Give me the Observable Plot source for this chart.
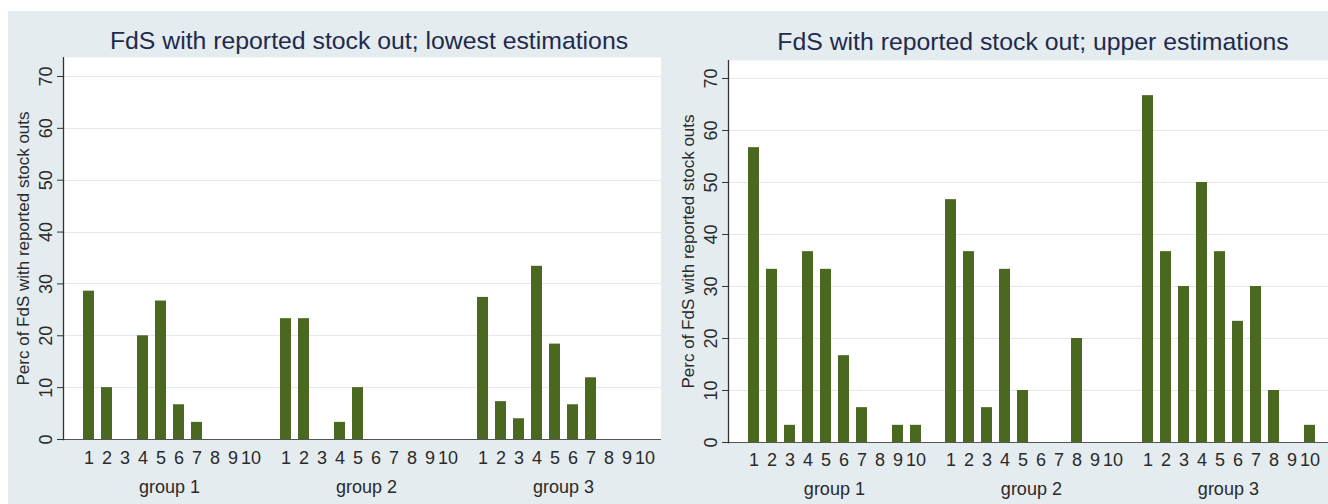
<!DOCTYPE html>
<html>
<head>
<meta charset="utf-8">
<script src="https://cdn.jsdelivr.net/npm/d3@7"></script>
<script src="https://cdn.jsdelivr.net/npm/@observablehq/plot@0.6"></script>
<style>
  body { margin: 0; background: #ffffff; }
  #wrap { position: relative; width: 1328px; height: 504px; overflow: hidden; }
  .panel { position: absolute; top: 11px; height: 493px; background: #e4ecef; }
  .title { position: absolute; left: 0; text-align: center; font-family: "Liberation Sans", Arial, sans-serif;
           font-size: 24.8px; line-height: 24px; color: #1f2a4c; white-space: nowrap; }
  .chart { position: absolute; left: 0; }
</style>
</head>
<body>
<div id="wrap">
  <div class="panel" id="p1" style="left:8px;width:653px;">
    <div class="title" style="top:18px;width:722px;">FdS with reported stock out; lowest estimations</div>
    <div class="chart" id="c1" style="top:46px;"></div>
  </div>
  <div class="panel" id="p2" style="left:661px;width:667px;">
    <div class="title" style="top:19px;width:744px;">FdS with reported stock out; upper estimations</div>
    <div class="chart" id="c2" style="top:49px;"></div>
  </div>
</div>
<script>
// ---- data ----
const groups = ["group 1", "group 2", "group 3"];
const items = [1, 2, 3, 4, 5, 6, 7, 8, 9, 10];
const yTicks = [0, 10, 20, 30, 40, 50, 60, 70];
const yTitle = "Perc of FdS with reported stock outs";

const lowestGroup1 = [28.6, 10.0, 0, 20.0, 26.7, 6.7, 3.3, 0, 0, 0];
const lowestGroup2 = [23.3, 23.3, 0, 3.3, 10.0, 0, 0, 0, 0, 0];
const lowestGroup3 = [27.4, 7.3, 4.0, 33.4, 18.4, 6.7, 11.9, 0, 0, 0];

const upperGroup1 = [56.7, 33.3, 3.3, 36.7, 33.3, 16.7, 6.7, 0, 3.3, 3.3];
const upperGroup2 = [46.7, 36.7, 6.7, 33.3, 10.0, 0, 0, 20.0, 0, 0];
const upperGroup3 = [66.7, 36.7, 30.0, 50.0, 36.7, 23.3, 30.0, 10.0, 0, 3.3];

// ---- helpers ----
function toRows(seriesByGroup) {
  const rows = [];
  seriesByGroup.forEach((vals, gi) => {
    vals.forEach((v, i) => rows.push({group: groups[gi], item: items[i], value: v}));
  });
  return rows;
}

const FONT = "'Liberation Sans', Arial, sans-serif";
const GREEN = "#4a6820";
const GRID = "#e1e9ee";
const TEXT = "#2a2a2a";

function makeChart(rows, cfg) {
  const ext = -14; // let full-width elements run on into the next facet / to the panel edge
  return Plot.plot({
    width: cfg.width,
    height: cfg.height,
    marginLeft: cfg.marginLeft,
    marginRight: 0,
    marginTop: 0,
    marginBottom: cfg.marginBottom,
    style: {background: "transparent", fontFamily: FONT, fontSize: "18px", color: TEXT},
    facet: {marginTop: 0, marginRight: 0, marginBottom: 0, marginLeft: 0},
    fx: {domain: groups, paddingInner: 0, paddingOuter: cfg.fxOuter, align: 0, axis: null, label: null},
    x: {domain: items, paddingInner: 0.4, paddingOuter: 0.2, insetLeft: cfg.insetLeft, insetRight: cfg.insetRight, label: null},
    y: {domain: [0, cfg.yMax], label: null},
    marks: [
      Plot.frame({fill: "white", stroke: "none", insetRight: ext}),
      Plot.ruleY(yTicks.filter(d => d > 0), {stroke: GRID, strokeWidth: 1, insetRight: ext, shapeRendering: "crispEdges"}),
      Plot.barY(rows, {fx: "group", x: "item", y: "value", fill: GREEN}),
      Plot.ruleY([0], {stroke: "#555", strokeWidth: 1, insetRight: ext, shapeRendering: "crispEdges"}),
      Plot.frame({anchor: "left", stroke: "#333", strokeWidth: 1.3, facetAnchor: "left"}),
      Plot.axisY({ticks: yTicks, tickSize: 6, tickRotate: -90, tickPadding: 6, label: null, fontSize: 18, stroke: "#333"}),
      Plot.axisX({tickSize: 0, tickPadding: cfg.xPad, label: null, fontSize: 18}),
      Plot.text(groups, {fx: d => d, text: d => d, frameAnchor: "bottom", lineAnchor: "middle", dx: cfg.groupDx, dy: cfg.groupDy, fontSize: 18}),
      Plot.text([yTitle], {text: d => d, frameAnchor: "left", textAnchor: "middle", lineAnchor: "middle", dx: -40, rotate: -90, fontSize: 17, facetAnchor: "left"})
    ]
  });
}

// left panel: frame 55..653, group step 197.5, bar region 184 wide starting 14.3 into each group band
document.getElementById("c1").append(makeChart(
  toRows([lowestGroup1, lowestGroup2, lowestGroup3]),
  {width: 653, height: 447, marginLeft: 55, marginBottom: 65, fxOuter: 0.0139, insetLeft: 14.3, insetRight: -0.8,
   groupDx: 14.3 + 92 - 197.5 / 2, yMax: 73.66, xPad: 12, groupDy: 48}
));
// right panel: frame 67..667, group step 197.1, bar region 181.5 wide starting 15.2 into each group band
document.getElementById("c2").append(makeChart(
  toRows([upperGroup1, upperGroup2, upperGroup3]),
  {width: 667, height: 444, marginLeft: 67, marginBottom: 62, fxOuter: 0.0221, insetLeft: 15.2, insetRight: 0.4,
   groupDx: 15.2 + 90.75 - 197.1 / 2, yMax: 73.46, xPad: 11, groupDy: 47}
));
</script>
</body>
</html>
